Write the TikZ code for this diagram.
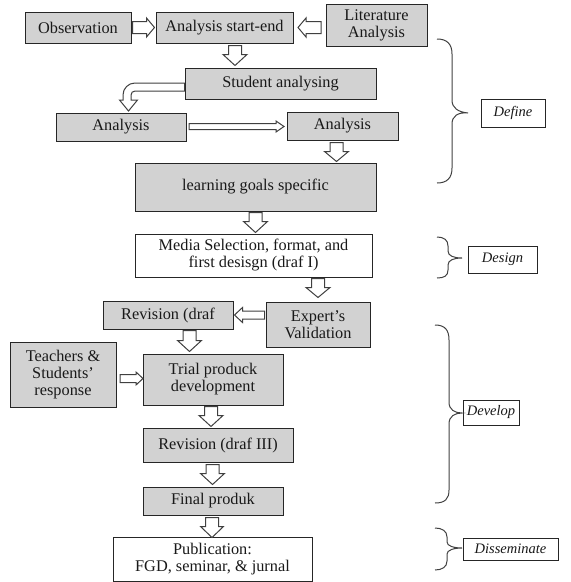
\documentclass[tikz,border=0pt]{standalone}
\usepackage{fontspec}
\setmainfont{Liberation Serif}
\usetikzlibrary{calc}
\tikzset{
  box/.style={draw=black!85, line width=1pt, fill=gray!35, text=black!90, align=center, inner sep=1pt,
    font=\fontsize{16.3}{17}\selectfont},
  wbox/.style={box, fill=white},
  lbl/.style={draw=black!85, line width=0.8pt, fill=white, text=black!90, inner sep=1pt,
    font=\fontsize{14.5}{16}\selectfont\itshape},
  blk/.style={draw=black!75, line width=1pt, fill=white, line join=miter},
  brace/.style={draw=black!75, line width=1pt}
}
% rotation, center, length, shaft half width, head half width, head length
\newcommand\barr[6]{\draw[blk, shift={#2}, rotate=#1] (-#3/2,#4) -- (#3/2-#6,#4) -- (#3/2-#6,#5) -- (#3/2,0) -- (#3/2-#6,-#5) -- (#3/2-#6,-#4) -- (-#3/2,-#4) -- cycle;}
\begin{document}
\begin{tikzpicture}[x=1pt,y=1pt]
\useasboundingbox (0,0) rectangle (571,-582);
% boxes
\node[box, minimum width=106, minimum height=31] (obs) at (78,-27.5) {Observation};
\node[box, minimum width=137, minimum height=31] (ase) at (224.5,-27.5) {Analysis start-end};
\node[box, minimum width=101, minimum height=42] (lit) at (376.5,-25) {Literature\\Analysis};
\node[box, minimum width=191, minimum height=31] (sa) at (280.5,-83.5) {Student analysing};
\node[box, minimum width=130, minimum height=28] (an1) at (121,-127) {Analysis};
\node[box, minimum width=111, minimum height=28] (an2) at (342.5,-126) {Analysis};
\node[box, minimum width=241, minimum height=48] (lgs) at (255.5,-187) {learning goals specific};
\node[wbox, minimum width=237, minimum height=43] (media) at (253.5,-255.5) {Media Selection, format, and\\first desisgn (draf I)};
\node[box, minimum width=130, minimum height=28] (rev1) at (168,-315) {Revision (draf};
\node[box, minimum width=104, minimum height=45] (exp) at (318,-324.5) {Expert’s\\Validation};
\node[box, minimum width=106, minimum height=65] (tea) at (63,-374.5) {Teachers \&\\Students’\\response};
\node[box, minimum width=140, minimum height=51] (trial) at (213,-379.5) {Trial produck\\development};
\node[box, minimum width=150, minimum height=34] (rev3) at (218,-445) {Revision (draf III)};
\node[box, minimum width=140, minimum height=28] (fin) at (213,-501) {Final produk};
\node[wbox, minimum width=199, minimum height=44] (pub) at (212.5,-559) {Publication:\\FGD, seminar, \& jurnal};
% labels
\node[lbl, minimum width=64, minimum height=28] (ldef) at (513,-113) {Define};
\node[lbl, minimum width=69, minimum height=27] (ldes) at (502.5,-259.5) {Design};
\node[lbl, minimum width=56, minimum height=25] (ldev) at (491,-412.5) {Develop};
\node[lbl, minimum width=95, minimum height=22] (ldis) at (510.5,-549) {Disseminate};
% braces
\draw[brace] (437,-39) .. controls (447,-39) and (452,-44) .. (452,-54) -- (452,-100)
  .. controls (452,-108) and (458,-112) .. (ldef.west -| 468,0) .. controls (458,-112) and (452,-116) .. (452,-124)
  -- (452,-168) .. controls (452,-178) and (447,-183) .. (437,-183);
\draw[brace] (437,-237) .. controls (444,-237) and (448,-240) .. (448,-246) -- (448,-251)
  .. controls (448,-256) and (454,-258) .. (462,-258) .. controls (454,-258) and (448,-260) .. (448,-265)
  -- (448,-270) .. controls (448,-276) and (444,-278) .. (437,-278);
\draw[brace] (435,-325) .. controls (445,-325) and (449,-330) .. (449,-340) -- (449,-402)
  .. controls (449,-410) and (455,-413) .. (462,-413) .. controls (455,-413) and (449,-416) .. (449,-424)
  -- (449,-490) .. controls (449,-499) and (445,-503) .. (435,-503);
\draw[brace] (435,-528) .. controls (442,-528) and (447,-531) .. (447,-537) -- (447,-542)
  .. controls (447,-546) and (454,-548) .. (462,-548) .. controls (454,-548) and (447,-550) .. (447,-554)
  -- (447,-561) .. controls (447,-567) and (442,-570) .. (435,-570);
% horizontal block arrows
\barr{0}{($(obs.east)!.5!(ase.west)$)}{22}{6}{9.5}{8}
\barr{180}{($(ase.east)!.5!(ase.east -| lit.west)$)}{23}{6}{9.5}{8}
\barr{0}{($(an1.east)!.5!(an2.west)$)}{95}{3}{5.5}{8}
\barr{180}{($(rev1.east)!.5!(rev1.east -| exp.west)$)}{30}{4}{7.5}{8}
\barr{0}{($(tea.east)!.5!(tea.east -| trial.west)+(2,-4)$)}{23}{4}{6.5}{7}
% down block arrows
\barr{-90}{($(ase.south)+(10.5,-12)$)}{20}{6.5}{12}{11}
\barr{-90}{($(an2.south)+(-6,-11.5)$)}{19}{6.5}{12}{10}
\barr{-90}{($(lgs.south)+(0,-11)$)}{20}{6.5}{12}{11}
\barr{-90}{($(exp.north)+(0,13.5)$)}{19}{6.5}{12}{10}
\barr{-90}{($(rev1.south)+(21.5,-11.5)$)}{21}{6.5}{12}{11}
\barr{-90}{($(trial.south)+(-2,-11)$)}{20}{6.5}{12}{11}
\barr{-90}{($(rev3.south)+(-5.5,-12)$)}{20}{6.5}{12}{11}
\barr{-90}{($(fin.south)+(-1,-12)$)}{20}{6.5}{11.5}{11}
% bent arrow from student analysing to analysis
\draw[blk] ($(sa.west)+(0,0.5)$) -- (135,-83) arc (90:180:12) -- (123,-100) -- (119.5,-100)
  -- (128.5,-111) -- (137.5,-100) -- (131,-100) -- (131,-95) arc (180:90:4) -- ($(sa.west)+(0,-7.5)$) -- cycle;
\end{tikzpicture}
\end{document}
